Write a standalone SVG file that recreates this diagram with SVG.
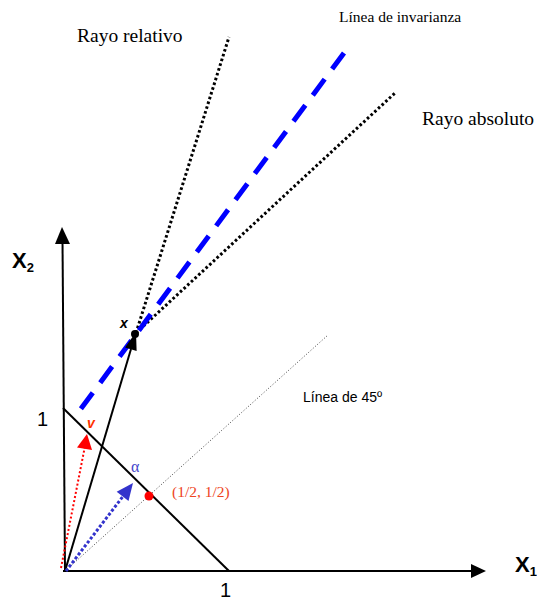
<svg xmlns="http://www.w3.org/2000/svg" width="537" height="602" viewBox="0 0 537 602">
<style>
.ln{stroke:#000;stroke-width:2;fill:none}
.ray{stroke:#000;stroke-width:3;stroke-dasharray:2.6 2.4;fill:none}
.inv{stroke:#0000ff;stroke-width:5;stroke-dasharray:20 12.5;fill:none}
.d45{stroke:#444;stroke-width:1;stroke-dasharray:1 2;fill:none}
.alpha{stroke:#3333cc;stroke-width:3;stroke-dasharray:3 2;fill:none}
.vline{stroke:#ff0000;stroke-width:2;stroke-dasharray:2 2.2;fill:none}
.serif{font-family:"Liberation Serif","Times New Roman",serif}
.sans{font-family:"Liberation Sans",Arial,sans-serif}
.axl{font-family:"Liberation Sans",Arial,sans-serif;font-weight:bold}
</style>
<g id="axes">
  <line class="ln" x1="65" y1="572" x2="62.5" y2="240"/>
  <polygon points="62,227 55,244 70,244" fill="#000"/>
  <line class="ln" x1="63" y1="571" x2="474" y2="571"/>
  <polygon points="486,571 471,564 471,578" fill="#000"/>
</g>
<g id="connectors">
  <line class="d45" x1="65" y1="571" x2="328" y2="335"/>
  <line class="ln" x1="63" y1="408" x2="229" y2="571"/>
  <line class="ray" x1="136" y1="333" x2="229" y2="37"/>
  <line class="ray" x1="136" y1="333" x2="395" y2="93"/>
  <line class="inv" x1="344" y1="53" x2="80" y2="410"/>
  <line class="ln" x1="65" y1="571" x2="131" y2="349"/>
  <polygon points="136,332 136.6,350.9 125.1,347.5" fill="#000"/>
  <line class="alpha" x1="66" y1="571" x2="124" y2="495"/>
  <polygon points="133,483 128.5,501 116.7,491.8" fill="#3333cc"/>
  <line class="vline" x1="61" y1="568" x2="85" y2="446"/>
  <polygon points="87,434 92,450 77,447.5" fill="#ff0000"/>
</g>
<g id="point-x">
  <circle cx="135" cy="334" r="4" fill="#000"/>
  <text class="sans" x="120" y="328" font-size="14" font-weight="bold" font-style="italic">x</text>
</g>
<g id="point-half">
  <circle cx="149" cy="496" r="4.5" fill="#ff0000"/>
  <text class="serif" x="172" y="497" font-size="15.5" fill="#ee4422">(1/2, 1/2)</text>
</g>
<g id="labels">
  <text class="axl" x="12" y="268" font-size="22">X<tspan font-size="13" dy="4">2</tspan></text>
  <text class="axl" x="515" y="572" font-size="22">X<tspan font-size="13" dy="4">1</tspan></text>
  <text class="sans" x="37" y="426" font-size="20">1</text>
  <text class="sans" x="220" y="597" font-size="20">1</text>
  <text class="serif" x="77" y="42" font-size="19.5">Rayo relativo</text>
  <text class="serif" x="422" y="125" font-size="19.5">Rayo absoluto</text>
  <text class="serif" x="339" y="22" font-size="15.5">Línea de invarianza</text>
  <text class="sans" x="303" y="402" font-size="14">Línea de 45º</text>
  <text class="sans" x="87" y="428" font-size="14" font-weight="bold" font-style="italic" fill="#ff3300">v</text>
  <text class="serif" x="131" y="472" font-size="16" fill="#4444cc">α</text>
</g>
</svg>
